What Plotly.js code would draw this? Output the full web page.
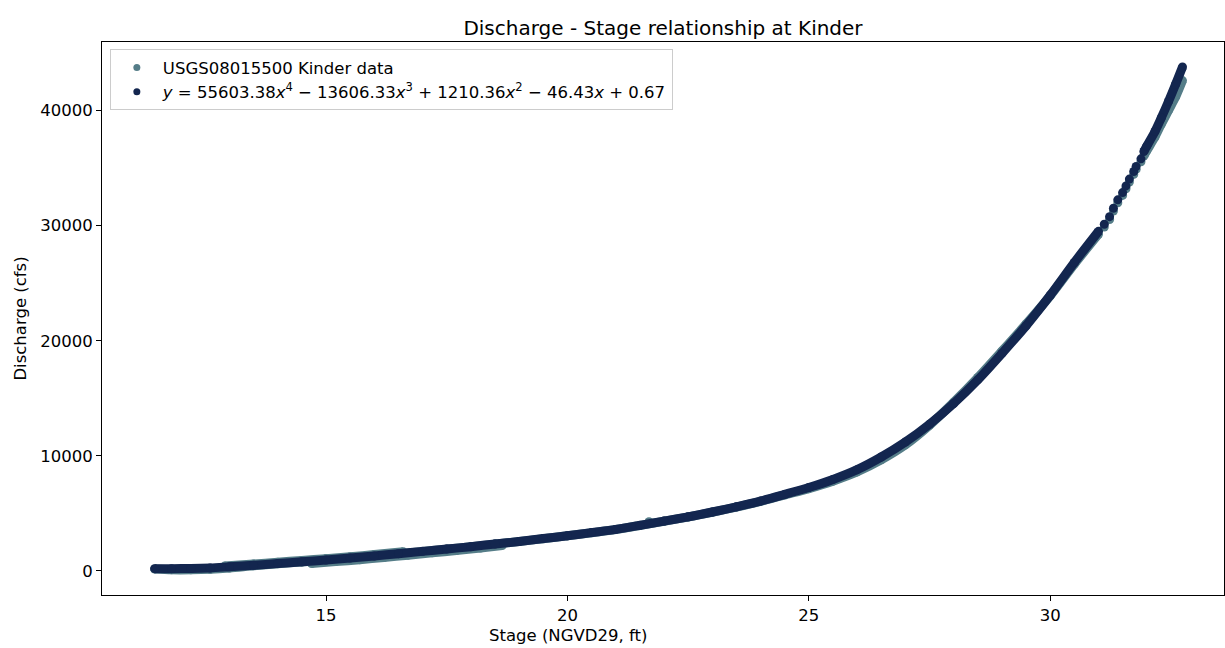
<!DOCTYPE html>
<html>
<head>
<meta charset="utf-8">
<script src="https://cdn.plot.ly/plotly-3.0.1.min.js"></script>
<style>
  html, body { margin: 0; padding: 0; background: #ffffff; }
  #chart { width: 1225px; height: 648px; }
</style>
</head>
<body>
<div id="chart"></div>
<script>
// Stage-discharge rating at USGS 08015500 (Kinder): gauged values and fitted rating curve.

// Gauged data, main strand (stage ft NGVD29, discharge cfs)
const stageObs = [11.45, 11.8, 12.2, 12.6, 13.0, 13.5, 14.0, 14.5, 15.0, 15.5, 16.0, 16.5, 17.0, 17.5, 18.0, 18.5,
  19.0, 19.5, 20.0, 20.5, 21.0, 21.5, 22.0, 22.5, 23.0, 23.5, 24.0, 24.5, 25.0, 25.5, 26.0, 26.5,
  27.0, 27.5, 28.0, 28.5, 29.0, 29.5, 30.0, 30.5, 31.0];
const dischargeObs = [170, 100, 100, 150, 260, 450, 620, 780, 940, 1110, 1290, 1490, 1690, 1890, 2100, 2330,
  2560, 2800, 3050, 3320, 3600, 3950, 4320, 4690, 5100, 5550, 6040, 6600, 7150, 7800, 8600, 9650,
  10950, 12650, 14650, 16800, 19100, 21450, 23900, 26650, 29250];

// Gauged data, lower scatter at moderate stages
const stageObsLow = [14.7, 15.2, 15.7, 16.2, 16.7, 17.2, 17.7, 18.2, 18.65];
const dischargeObsLow = [640, 810, 980, 1170, 1370, 1570, 1770, 1990, 2200];

// Gauged data, upper scatter at moderate stages
const stageObsHigh = [12.9, 13.5, 14.0, 14.5, 15.0, 15.5, 16.0, 16.6];
const dischargeObsHigh = [420, 600, 760, 910, 1070, 1240, 1420, 1660];

// Isolated gauged readings
const stageObsSingle = [21.69];
const dischargeObsSingle = [4280];

// Sparse gauged readings between 31 and 32 ft
const stageObsGap = [31.12, 31.23, 31.31, 31.40, 31.50, 31.57, 31.64, 31.73, 31.78, 31.88];
const dischargeObsGap = [29870, 30530, 31260, 31990, 32620, 33200, 33790, 34450, 34880, 35550];

// Gauged data near peak stage
const stageObsTop = [31.94, 32.0, 32.17, 32.3, 32.45, 32.6, 32.74];
const dischargeObsTop = [36050, 36500, 37700, 38800, 40000, 41200, 42600];

// Fitted rating curve evaluated at gauged stages
const stageFit = [11.45, 11.8, 12.2, 12.6, 13.0, 13.5, 14.0, 14.5, 15.0, 15.5, 16.0, 16.5, 17.0, 17.5, 18.0, 18.5,
  19.0, 19.5, 20.0, 20.5, 21.0, 21.5, 22.0, 22.5, 23.0, 23.5, 24.0, 24.5, 25.0, 25.5, 26.0, 26.5,
  27.0, 27.5, 28.0, 28.5, 29.0, 29.5, 30.0, 30.5, 31.0];
const dischargeFit = [200, 200, 210, 260, 360, 490, 640, 790, 950, 1120, 1300, 1500, 1700, 1900, 2110, 2340,
  2560, 2810, 3050, 3330, 3610, 3960, 4330, 4700, 5120, 5570, 6070, 6650, 7250, 7950, 8800, 9900,
  11200, 12750, 14550, 16600, 18900, 21300, 23950, 26800, 29500];

const stageFitGap = [31.12, 31.23, 31.31, 31.40, 31.50, 31.57, 31.64, 31.73, 31.78, 31.88];
const dischargeFitGap = [30120, 30780, 31510, 32240, 32870, 33450, 34040, 34700, 35130, 35800];

const stageFitTop = [31.94, 32.0, 32.17, 32.3, 32.45, 32.6, 32.74];
const dischargeFitTop = [36440, 36900, 38180, 39350, 40780, 42300, 43780];

const seriesNames = [
  'USGS08015500 Kinder data',
  '<i>y</i> = 55603.38<i>x</i><sup>4</sup> \u2212 13606.33<i>x</i><sup>3</sup> + 1210.36<i>x</i><sup>2</sup> \u2212 46.43<i>x</i> + 0.67'
];

const xTicks = [15, 20, 25, 30];
const yTicks = [0, 10000, 20000, 30000, 40000];

const obsColor = '#557d88';
const fitColor = '#13264f';
const bandWidth = 9;
const font = 'DejaVu Sans, sans-serif';
const labelSize = 16.5;

// join strands into one trace, breaking the line between them
function joinStrands(parts) {
  const out = [];
  parts.forEach((p, i) => { if (i) out.push(null); out.push(...p); });
  return out;
}

function band(x, y, color) {
  return {
    x: x, y: y, type: 'scatter', mode: 'lines+markers',
    line: { color: color, width: bandWidth, shape: 'spline', smoothing: 0.8 },
    marker: { color: color, size: bandWidth },
    showlegend: false, hoverinfo: 'skip'
  };
}

function dots(x, y, color) {
  return {
    x: x, y: y, type: 'scatter', mode: 'markers',
    marker: { color: color, size: bandWidth },
    showlegend: false, hoverinfo: 'skip'
  };
}

const traces = [
  band(joinStrands([stageObs, stageObsLow, stageObsHigh, stageObsTop]),
       joinStrands([dischargeObs, dischargeObsLow, dischargeObsHigh, dischargeObsTop]), obsColor),
  dots(stageObsSingle.concat(stageObsGap), dischargeObsSingle.concat(dischargeObsGap), obsColor),
  band(joinStrands([stageFit, stageFitTop]), joinStrands([dischargeFit, dischargeFitTop]), fitColor),
  dots(stageFitGap, dischargeFitGap, fitColor),
  // legend entries
  { x: [null], y: [null], type: 'scatter', mode: 'markers', name: seriesNames[0],
    marker: { color: obsColor, size: 7 } },
  { x: [null], y: [null], type: 'scatter', mode: 'markers', name: seriesNames[1],
    marker: { color: fitColor, size: 7 } }
];

const layout = {
  width: 1225, height: 648,
  paper_bgcolor: '#ffffff', plot_bgcolor: '#ffffff',
  margin: { l: 102, r: 1, t: 42, b: 53 },
  font: { family: font, size: labelSize, color: '#000000' },
  title: {
    text: 'Discharge - Stage relationship at Kinder',
    font: { family: font, size: 20, color: '#000000' },
    x: 0.5, xref: 'paper', xanchor: 'center',
    y: 1, yref: 'paper', yanchor: 'bottom', pad: { b: 7 }
  },
  xaxis: {
    range: [10.36, 33.6],
    tickvals: xTicks, ticktext: xTicks.map(String),
    ticks: 'outside', ticklen: 5, tickwidth: 1, tickcolor: '#000000',
    showline: true, linecolor: '#000000', linewidth: 1, mirror: true,
    showgrid: false, zeroline: false,
    tickfont: { family: font, size: labelSize, color: '#000000' }
  },
  yaxis: {
    range: [-2090, 45950],
    tickvals: yTicks, ticktext: yTicks.map(String),
    ticks: 'outside', ticklen: 5, tickwidth: 1, tickcolor: '#000000',
    showline: true, linecolor: '#000000', linewidth: 1, mirror: true,
    showgrid: false, zeroline: false,
    tickfont: { family: font, size: labelSize, color: '#000000' },
    title: { text: 'Discharge (cfs)', standoff: 9, font: { family: font, size: labelSize, color: '#000000' } }
  },
  annotations: [{
    text: 'Stage (NGVD29, ft)', showarrow: false,
    xref: 'paper', yref: 'paper', x: 0.415, y: -0.074,
    xanchor: 'center', yanchor: 'middle',
    font: { family: font, size: labelSize, color: '#000000' }
  }],
  legend: {
    x: 0.007, y: 0.987, xanchor: 'left', yanchor: 'top',
    bgcolor: 'rgba(255,255,255,0.8)', bordercolor: '#cccccc', borderwidth: 1,
    font: { family: font, size: labelSize, color: '#000000' },
    itemwidth: 42
  },
  showlegend: true
};

Plotly.newPlot('chart', traces, layout, { staticPlot: true, displayModeBar: false });
</script>
</body>
</html>
